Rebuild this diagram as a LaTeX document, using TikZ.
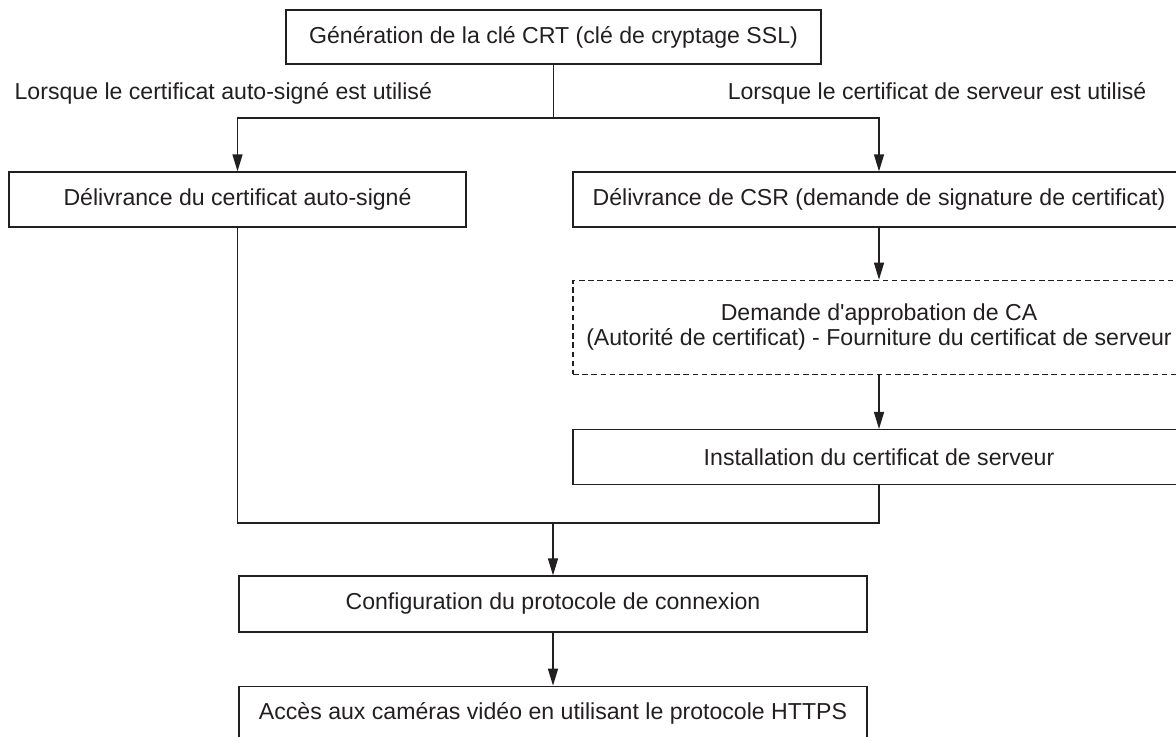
\documentclass[tikz,border=0pt]{standalone}
\usepackage{fontspec}
\setmainfont{Liberation Sans}
\usetikzlibrary{arrows.meta,positioning}
\definecolor{ink}{RGB}{35,31,32}

\begin{document}
\begin{tikzpicture}[
  x=0.5pt, y=-0.5pt,
  line width=0.65pt, draw=ink,
  every node/.style={text=ink, font=\fontsize{11.55}{12.5}\selectfont},
  box/.style={draw=ink, align=center, minimum height=27.5pt, inner sep=0pt},
  wide/.style={box, minimum width=306pt},
  dbox/.style={wide, dash pattern=on 2.8pt off 1.8pt, minimum height=47pt},
  lbl/.style={inner sep=0pt},
  arr/.style={-{Triangle[length=8.5pt, width=5pt]}, ink}
]
\useasboundingbox (0,0) rectangle (1176,736);

\node[box, minimum width=267.5pt, minimum height=27pt] (crt) at (553.5,37) {Génération de la clé CRT (clé de cryptage SSL)};
\node[lbl, anchor=west] (lblself) at (14,93) {Lorsque le certificat auto-signé est utilisé};
\node[lbl, anchor=east] (lblsrv) at (1147,93) {Lorsque le certificat de serveur est utilisé};

\node[box, minimum width=228.5pt] (selfcert) at (237.5,199.5) {Délivrance du certificat auto-signé};
\node[wide] (csr) at (879,199.5) {Délivrance de CSR (demande de signature de certificat)};
\node[dbox, below=26pt of csr] (ca) {Demande d\textquotesingle approbation de CA\\(Autorité de certificat) - Fourniture du certificat de serveur};
\node[wide, below=27pt of ca] (install) {Installation du certificat de serveur};

\node[box, minimum width=314pt, minimum height=28pt] (proto) at (553,604) {Configuration du protocole de connexion};
\node[box, minimum width=314pt, below=26.5pt of proto] (https) {Accès aux caméras vidéo en utilisant le protocole HTTPS};

\coordinate (split) at (553.5,118);
\coordinate (join) at (553,523);

\draw (crt) -- (split);
\draw[arr] (split) -| (selfcert.north);
\draw[arr] (split) -| (csr.north);
\draw[arr] (csr) -- (ca);
\draw[arr] (ca) -- (install);
\draw (selfcert.south) |- (join) -| (install.south);
\draw[arr] (join) -- (proto);
\draw[arr] (proto) -- (https);
\end{tikzpicture}
\end{document}
